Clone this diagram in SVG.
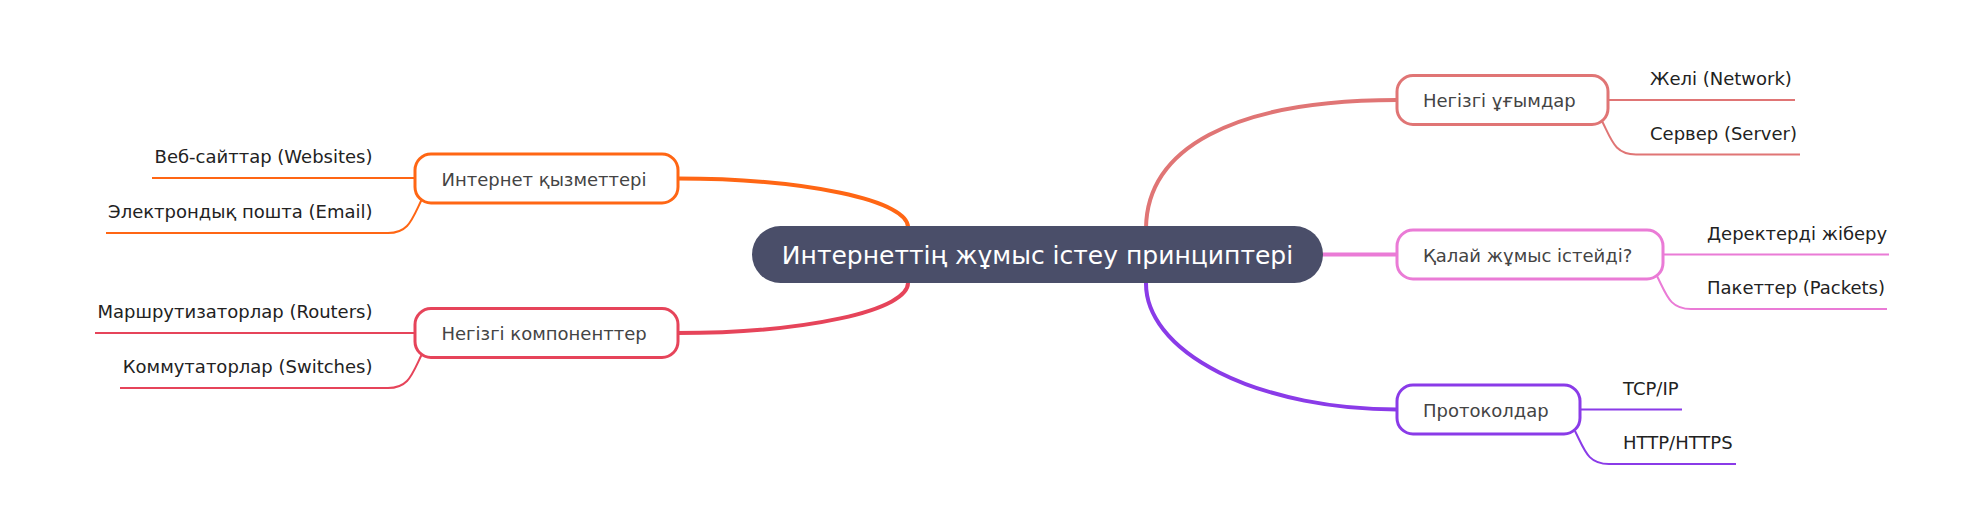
<svg xmlns="http://www.w3.org/2000/svg" width="1985" height="510" viewBox="0 0 1985 510">
<style>
  text { font-family: "DejaVu Sans", "Noto Sans", sans-serif; }
  .root-text { font-size: 25px; fill: #ffffff; }
  .node-text { font-size: 18px; fill: #444444; }
  .leaf-text { font-size: 18px; fill: #222222; }
  .box { fill: #ffffff; stroke-width: 3; }
  .main { fill: none; stroke-width: 4; stroke-linecap: round; }
  .leaf { fill: none; stroke-width: 2; }
  .c1 { stroke: #e07575; }
  .c2 { stroke: #ea7bd6; }
  .c3 { stroke: #8a3be8; }
  .c4 { stroke: #ff6614; }
  .c5 { stroke: #e6445a; }
</style>
<rect width="1985" height="510" fill="#ffffff"/>
<g id="connectors">
  <path class="main c1" d="M1146,236 L1146,228 C1147,150 1230,100 1397,100"/>
  <path class="main c2" d="M1315,254.5 L1397,254.5"/>
  <path class="main c3" d="M1146,275 L1146,283 A251,126 0 0 0 1397,409.5"/>
  <path class="main c4" d="M677,178.5 A231,48.5 0 0 1 908,227 L908,235"/>
  <path class="main c5" d="M677,333 A231,50 0 0 0 908,283 L908,275"/>

  <path class="leaf c1" d="M1608,100 L1795,100"/>
  <path class="leaf c1" d="M1602,121 C1612,141 1615,154.5 1636,154.5 L1800,154.5"/>
  <path class="leaf c2" d="M1663,254.5 L1889,254.5"/>
  <path class="leaf c2" d="M1657,276 C1667,296 1670,309 1691,309 L1887,309"/>
  <path class="leaf c3" d="M1580,409.5 L1682,409.5"/>
  <path class="leaf c3" d="M1575,431 C1585,451 1588,464 1609,464 L1736,464"/>

  <path class="leaf c4" d="M415,178 L152,178"/>
  <path class="leaf c4" d="M422,199 C412,219 409,233 388,233 L106,233"/>
  <path class="leaf c5" d="M415,333 L95,333"/>
  <path class="leaf c5" d="M422,354 C412,374 409,388 388,388 L120,388"/>
</g>

<g id="root">
  <rect x="752" y="226" width="571" height="57" rx="28.5" fill="#4a4e69"/>
  <text class="root-text" x="1037.5" y="263.5" text-anchor="middle">Интернеттің жұмыс істеу принциптері</text>
</g>

<g id="n-concepts">
  <rect class="box c1" x="1397" y="75.5" width="211" height="49" rx="16"/>
  <text class="node-text" x="1423" y="107">Негізгі ұғымдар</text>
</g>
<g id="n-network">
  <text class="leaf-text" x="1650" y="85">Желі (Network)</text>
</g>
<g id="n-server">
  <text class="leaf-text" x="1650" y="139.5">Сервер (Server)</text>
</g>

<g id="n-how">
  <rect class="box c2" x="1397" y="230" width="266" height="49" rx="16"/>
  <text class="node-text" x="1423" y="261.5">Қалай жұмыс істейді?</text>
</g>
<g id="n-data">
  <text class="leaf-text" x="1707" y="239.5">Деректерді жіберу</text>
</g>
<g id="n-packets">
  <text class="leaf-text" x="1707" y="294">Пакеттер (Packets)</text>
</g>

<g id="n-protocols">
  <rect class="box c3" x="1397" y="385" width="183" height="49" rx="16"/>
  <text class="node-text" x="1423" y="416.5">Протоколдар</text>
</g>
<g id="n-tcpip">
  <text class="leaf-text" x="1623" y="394.5">TCP/IP</text>
</g>
<g id="n-http">
  <text class="leaf-text" x="1623" y="449">HTTP/HTTPS</text>
</g>

<g id="n-services">
  <rect class="box c4" x="415" y="154" width="263" height="49" rx="16"/>
  <text class="node-text" x="441.5" y="185.5">Интернет қызметтері</text>
</g>
<g id="n-websites">
  <text class="leaf-text" x="372.5" y="163" text-anchor="end">Веб-сайттар (Websites)</text>
</g>
<g id="n-email">
  <text class="leaf-text" x="372.5" y="218" text-anchor="end">Электрондық пошта (Email)</text>
</g>

<g id="n-components">
  <rect class="box c5" x="415" y="308.5" width="263" height="49" rx="16"/>
  <text class="node-text" x="441.5" y="340">Негізгі компоненттер</text>
</g>
<g id="n-routers">
  <text class="leaf-text" x="372.5" y="318" text-anchor="end">Маршрутизаторлар (Routers)</text>
</g>
<g id="n-switches">
  <text class="leaf-text" x="372.5" y="373" text-anchor="end">Коммутаторлар (Switches)</text>
</g>
</svg>
